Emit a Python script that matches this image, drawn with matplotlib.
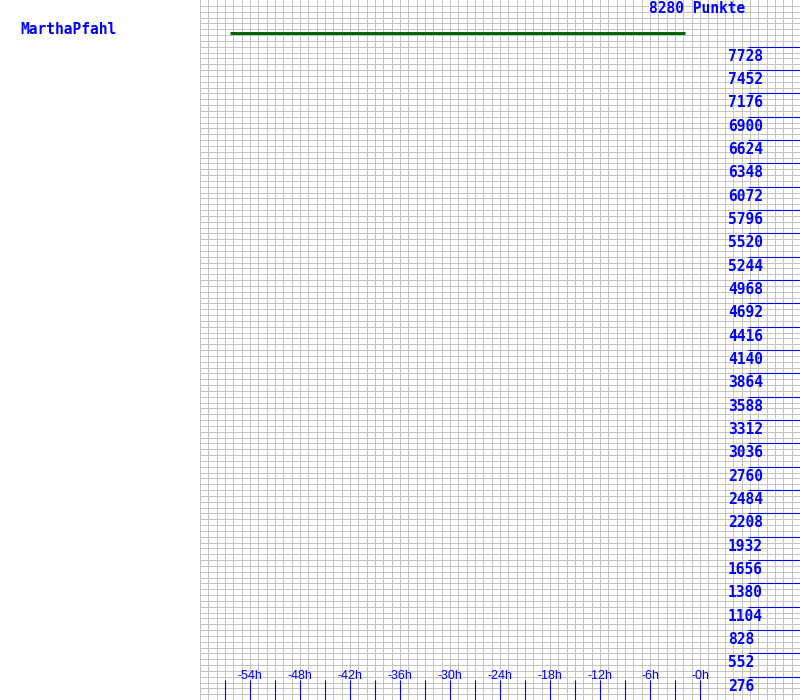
import numpy as np
import matplotlib
matplotlib.use("Agg")
import matplotlib.pyplot as plt

# data
player = "MarthaPfahl"
total_points = 8280
hours = [-56.4, -1.8]
points = [7893, 7893]
y_labels = [276 * k for k in range(1, 29)]
x_ticks = list(range(-57, 1, 3))
x_labels = [f"-{h}h" for h in (54, 48, 42, 36, 30, 24, 18, 12, 6, 0)]
x_label_pos = [-54, -48, -42, -36, -30, -24, -18, -12, -6, 0]

blue = "#0000ff"
font = dict(family="DejaVu Sans Mono", fontsize=10.5, color=blue, fontweight="bold")
small = dict(family=["Liberation Sans", "DejaVu Sans"], fontsize=9, color=blue)

fig = plt.figure(figsize=(8, 7), dpi=100)
ax = fig.add_axes([0.25, 0, 0.75, 1])
ax.set_xlim(-60, 12)
ax.set_ylim(0, total_points)

# grid: 1h per column, 69 points per row
ax.set_xticks(np.arange(-60, 12, 1))
ax.set_yticks(np.arange(0, total_points, 69))
ax.grid(True, color="#c4c4c4", linewidth=0.72)
ax.tick_params(length=0, labelbottom=False, labelleft=False)
for s in ax.spines.values():
    s.set_visible(False)
ax.set_axisbelow(True)

ax.plot(hours, points, color="#006600", linewidth=2.2, solid_capstyle="butt")

# right-hand value markers
ax.hlines(y_labels, 5.76, 12, color=blue, linewidth=0.8)
for v in y_labels:
    ax.annotate(str(v), xy=(3.36, v), xytext=(0, -2), textcoords="offset pixels",
                ha="left", va="top", **font)

# bottom tick marks and hour labels
ax.vlines(x_ticks, 0, 20 * total_points / 700, color=blue, linewidth=0.8)
for pos, lab in zip(x_label_pos, x_labels):
    ax.annotate(lab, xy=(pos, 0), xytext=(0, 18), textcoords="offset pixels",
                ha="center", va="bottom", **small)

fig.text(20 / 800, 1 - 22 / 700, player, ha="left", va="top", **font)
fig.text(649 / 800, 1 - 1 / 700, f"{total_points} Punkte", ha="left", va="top", **font)

fig.savefig("out.png", dpi=100)
